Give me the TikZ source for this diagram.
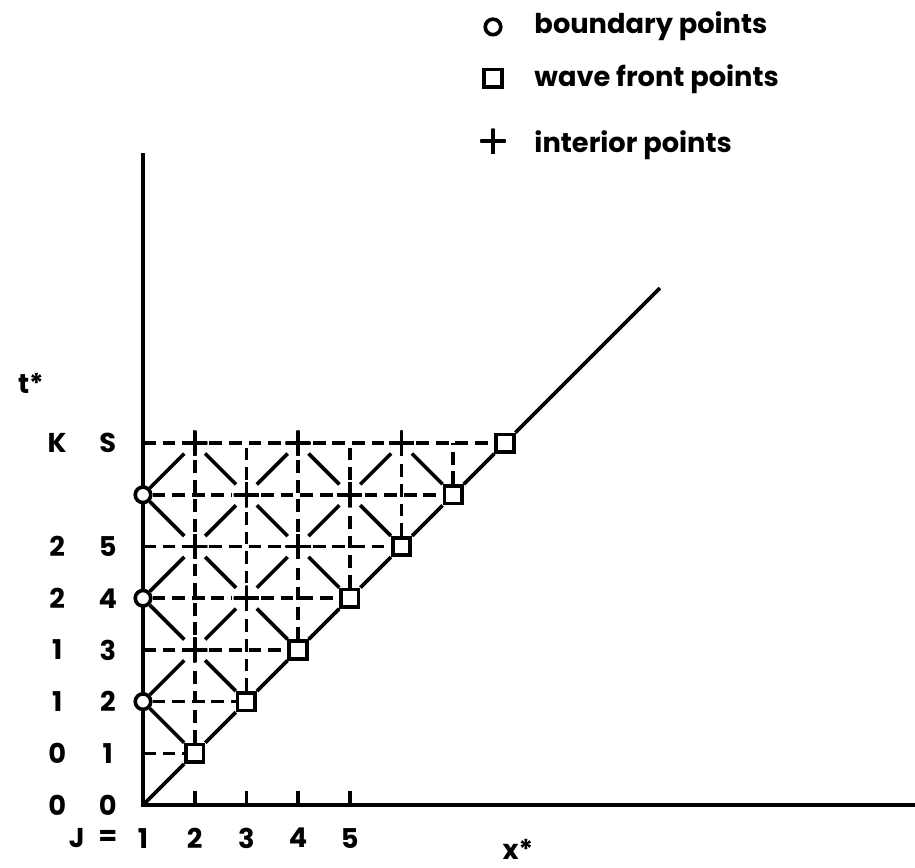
\documentclass[tikz,border=0pt]{standalone}
\usepackage{fontspec}
\setmainfont{Poppins}
\begin{document}
\begin{tikzpicture}[line width=2pt,
  every node/.style={font=\bfseries\fontsize{15}{17}\selectfont},
  bnd/.style={circle, draw, fill=white, inner sep=0pt, minimum size=0.3cm},
  wfp/.style={rectangle, draw, fill=white, inner sep=0pt, minimum size=0.34cm},
  intp/.style={circle, inner sep=0pt, minimum size=0.5cm,
    path picture={\draw[line width=2pt]
      (path picture bounding box.north) -- (path picture bounding box.south)
      (path picture bounding box.west) -- (path picture bounding box.east);}},
  meshline/.style={dash pattern=on 7pt off 3.8pt}]
\useasboundingbox (-2.766,-1.199) rectangle (14.932,15.571);
% axes
\coordinate (O) at (0,0);
\coordinate (ytop) at (0,12.61);
\coordinate (xend) at (14.932,0);
\draw (ytop) -- (O) -- (xend);
\draw (1,0) -- (1,0.27) (2,0) -- (2,0.27) (3,0) -- (3,0.27) (4,0) -- (4,0.27);
% mesh points
\node[bnd] (b2) at (0,2) {};
\node[bnd] (b4) at (0,4) {};
\node[bnd] (b6) at (0,6) {};
\node[wfp] (w1) at (1,1) {};
\node[wfp] (w2) at (2,2) {};
\node[wfp] (w3) at (3,3) {};
\node[wfp] (w4) at (4,4) {};
\node[wfp] (w5) at (5,5) {};
\node[wfp] (w6) at (6,6) {};
\node[wfp] (w7) at (7,7) {};
\node[intp] (p13) at (1,3) {};
\node[intp] (p15) at (1,5) {};
\node[intp] (p17) at (1,7) {};
\node[intp] (p24) at (2,4) {};
\node[intp] (p26) at (2,6) {};
\node[intp] (p35) at (3,5) {};
\node[intp] (p37) at (3,7) {};
\node[intp] (p46) at (4,6) {};
\node[intp] (p57) at (5,7) {};
\coordinate (a1) at (0,1);
\coordinate (a3) at (0,3);
\coordinate (a5) at (0,5);
\coordinate (a7) at (0,7);
\coordinate (c27) at (2,7);
\coordinate (c47) at (4,7);
\coordinate (c67) at (6,7);
\coordinate (dend) at (10,10);
% dashed mesh lines
\draw[meshline] (a1) -- (w1);
\draw[meshline] (b2) -- (w2);
\draw[meshline] (a3) -- (p13) -- (w3);
\draw[meshline] (b4) -- (p24) -- (w4);
\draw[meshline] (a5) -- (p15) -- (p35) -- (w5);
\draw[meshline] (b6) -- (p26) -- (p46) -- (w6);
\draw[meshline] (a7) -- (p17) -- (p37) -- (p57) -- (w7);
\draw[meshline] (w1) -- (p13) -- (p15) -- (p17);
\draw[meshline] (w2) -- (p24) -- (p26) -- (c27);
\draw[meshline] (w3) -- (p35) -- (p37);
\draw[meshline] (w4) -- (p46) -- (c47);
\draw[meshline] (w5) -- (p57);
\draw[meshline] (w6) -- (c67);
% characteristics
\draw (O) -- (w1) -- (w2) -- (w3) -- (w4) -- (w5) -- (w6) -- (w7) -- (dend);
\draw (b2) -- (p13) -- (p24) -- (p35) -- (p46) -- (p57);
\draw (b4) -- (p15) -- (p26) -- (p37);
\draw (b6) -- (p17);
\draw (w1) -- (b2);
\draw (w2) -- (p13) -- (b4);
\draw (w3) -- (p24) -- (p15) -- (b6);
\draw (w4) -- (p35) -- (p26) -- (p17);
\draw (w5) -- (p46) -- (p37);
\draw (w6) -- (p57);
% labels
\node (k0) at (-1.66,0) {0};
\node (s0) at (-0.68,0) {0};
\node (k1) at (-1.66,1) {0};
\node (s1) at (-0.68,1) {1};
\node (k2) at (-1.66,2) {1};
\node (s2) at (-0.68,2) {2};
\node (k3) at (-1.66,3) {1};
\node (s3) at (-0.68,3) {3};
\node (k4) at (-1.66,4) {2};
\node (s4) at (-0.68,4) {4};
\node (k5) at (-1.66,5) {2};
\node (s5) at (-0.68,5) {5};
\node (k7) at (-1.66,7) {K};
\node (s7) at (-0.68,7) {S};
\node (jl) at (-1.28,-0.64) {J};
\node (jeq) at (-0.68,-0.64) {=};
\node (j1) at (0,-0.64) {1};
\node (j2) at (1,-0.64) {2};
\node (j3) at (2,-0.64) {3};
\node (j4) at (3,-0.64) {4};
\node (j5) at (4,-0.64) {5};
\node (tlab) at (-2.17,8.15) {t*};
\node (xlab) at (7.25,-0.85) {x*};
% legend
\node[bnd] (lb) at (6.77,15.05) {};
\node[wfp] (lw) at (6.77,14.06) {};
\node[intp] (lp) at (6.77,12.84) {};
\node[anchor=base west] (tb) at (7.42,14.93) {boundary points};
\node[anchor=base west] (tw) at (7.42,13.89) {wave front points};
\node[anchor=base west] (tp) at (7.42,12.63) {interior points};
\end{tikzpicture}
\end{document}
